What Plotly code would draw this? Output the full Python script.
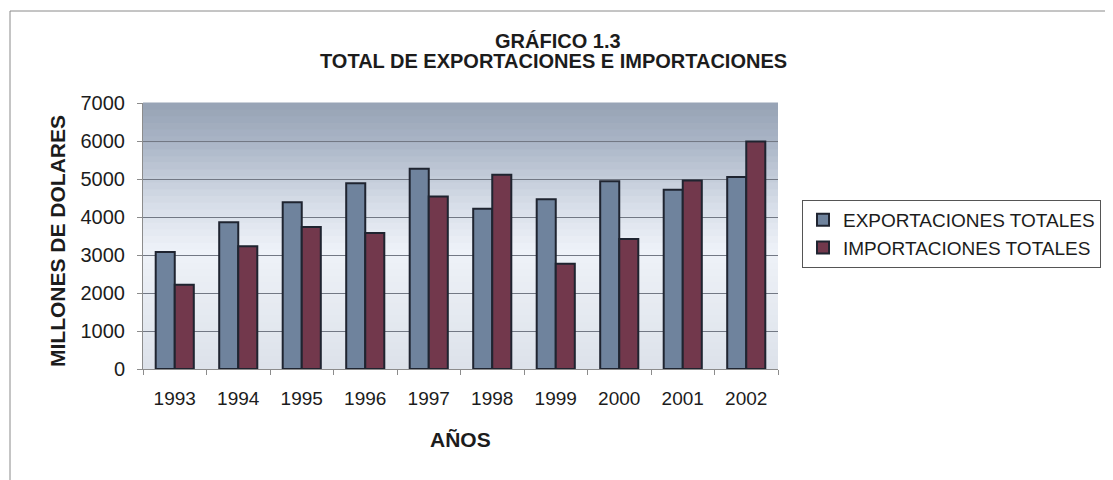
import plotly.graph_objects as go

years = ["1993", "1994", "1995", "1996", "1997", "1998", "1999", "2000", "2001", "2002"]
exportaciones = [3080, 3860, 4390, 4890, 5270, 4220, 4470, 4940, 4720, 5050]
importaciones = [2220, 3230, 3740, 3580, 4540, 5110, 2770, 3420, 4960, 5990]
y_ticks = [0, 1000, 2000, 3000, 4000, 5000, 6000, 7000]

OFF = 8  # page body margin
W, H = 1113 - OFF, 480 - OFF
L, R, T, B = 143 - OFF, 1113 - 778, 103 - OFF, 480 - 369
pw, ph = W - L - R, H - T - B

def px_x(x):
    return (x - OFF - L) / pw

def px_y(y):
    return (H - B - (y - OFF)) / ph

FONT = "Liberation Sans, Arial, sans-serif"
TXT = "#1c1c1c"

fig = go.Figure()
fig.add_trace(go.Bar(
    x=years, y=exportaciones, name="EXPORTACIONES TOTALES",
    marker=dict(color="#6f839d", line=dict(color="#1f2430", width=2)),
))
fig.add_trace(go.Bar(
    x=years, y=importaciones, name="IMPORTACIONES TOTALES",
    marker=dict(color="#72384c", line=dict(color="#1f2430", width=2)),
))

shapes = []
# vertical gradient background of plot area (strips)
stops = [(0.0, (221, 226, 234)), (0.45, (238, 242, 248)), (0.62, (214, 221, 232)),
         (0.85, (170, 181, 198)), (1.0, (150, 162, 180))]
def col_at(t):
    for (t0, c0), (t1, c1) in zip(stops[:-1], stops[1:]):
        if t0 <= t <= t1:
            f = (t - t0) / (t1 - t0) if t1 > t0 else 0
            return "rgb(%d,%d,%d)" % tuple(round(a + (b - a) * f) for a, b in zip(c0, c1))
    return "rgb(%d,%d,%d)" % stops[-1][1]
n = 40
for i in range(n):
    shapes.append(dict(type="rect", xref="paper", yref="paper", layer="below",
                       x0=0, x1=1, y0=i / n, y1=(i + 1) / n + 0.002,
                       fillcolor=col_at((i + 0.5) / n), line=dict(width=0)))
# outer chart frame
shapes.append(dict(type="rect", xref="paper", yref="paper",
                   x0=px_x(10), x1=px_x(1130), y0=px_y(520), y1=px_y(11),
                   line=dict(color="#8a8a8a", width=1), fillcolor="rgba(0,0,0,0)"))

annotations = [
    dict(text="<b>GRÁFICO 1.3</b>", xref="paper", yref="paper", x=px_x(558), y=px_y(41),
         showarrow=False, font=dict(family=FONT, size=20, color=TXT), xanchor="center", yanchor="middle"),
    dict(text="<b>TOTAL DE EXPORTACIONES E IMPORTACIONES</b>", xref="paper", yref="paper",
         x=px_x(553), y=px_y(61), showarrow=False,
         font=dict(family=FONT, size=20, color=TXT), xanchor="center", yanchor="middle"),
    dict(text="<b>MILLONES DE DOLARES</b>", xref="paper", yref="paper", x=px_x(57), y=px_y(241),
         textangle=-90, showarrow=False, font=dict(family=FONT, size=21, color=TXT),
         xanchor="center", yanchor="middle"),
    dict(text="<b>AÑOS</b>", xref="paper", yref="paper", x=px_x(460), y=px_y(439),
         showarrow=False, font=dict(family=FONT, size=21, color=TXT),
         xanchor="center", yanchor="middle"),
]

fig.update_layout(
    width=W, height=H,
    margin=dict(l=L, r=R, t=T, b=B, autoexpand=False),
    paper_bgcolor="white", plot_bgcolor="#e4e8ef",
    barmode="group", bargap=0.4, bargroupgap=0.0,
    font=dict(family=FONT, size=19, color=TXT),
    shapes=shapes, annotations=annotations,
    legend=dict(x=px_x(802), y=px_y(200), xanchor="left", yanchor="top",
                bordercolor="#555", borderwidth=1, bgcolor="white",
                font=dict(family=FONT, size=19, color=TXT),
                itemwidth=30, tracegroupgap=0),
    showlegend=True,
)
fig.update_xaxes(
    type="category", showgrid=False, showline=True, linecolor="#8c8c8c", linewidth=1,
    ticks="outside", tickson="boundaries", ticklen=5, tickcolor="#8c8c8c",
    tickfont=dict(family=FONT, size=19, color=TXT), ticklabelstandoff=12,
)
fig.update_yaxes(
    range=[0, 7000], tickvals=y_ticks, showgrid=True, gridcolor="#727884", gridwidth=1,
    showline=True, linecolor="#8c8c8c", linewidth=1, zeroline=False,
    ticks="outside", ticklen=5, tickcolor="#8c8c8c",
    tickfont=dict(family=FONT, size=20, color=TXT), ticklabelstandoff=8,
)

fig.write_html("out.html")
